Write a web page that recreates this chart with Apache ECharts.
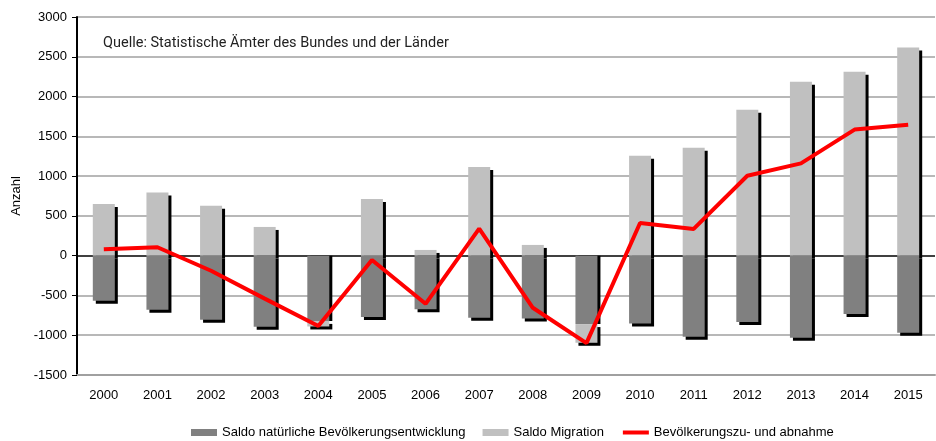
<!DOCTYPE html>
<html><head><meta charset="utf-8">
<script src="https://cdn.jsdelivr.net/npm/echarts@6/dist/echarts.min.js"></script>
<style>html,body{margin:0;padding:0;background:#fff}#c{width:936px;height:441px}</style>
</head><body><div id="c"></div>
<script>
const years = ['2000','2001','2002','2003','2004','2005','2006','2007','2008','2009','2010','2011','2012','2013','2014','2015'];
const natural = [-567,-680,-805,-894,-820,-770,-675,-781,-789,-860,-852,-1020,-835,-1033,-734,-970];
const migration = [651,793,626,361,-70,712,72,1115,135,-235,1255,1356,1834,2187,2313,2616];
const total = [80,106,-190,-540,-885,-55,-605,340,-655,-1100,410,336,1005,1160,1585,1645];
const source = 'Quelle: Statistische Ämter des Bundes und der Länder';

const font = '"Liberation Sans", Arial, sans-serif';
const chart = echarts.init(document.getElementById('c'), null, {renderer:'canvas'});
const gridCols = [];
for (let v=-1500; v<=3000; v+=500) gridCols.push(v===0 ? '#000000' : '#a0a0a0');
const shadow = {shadowColor:'#000',shadowOffsetX:3,shadowOffsetY:3,shadowBlur:0};
// natural bar: no bottom shadow where migration continues below it
const naturalData = natural.map((v,i)=> migration[i] < 0
  ? {value:v, itemStyle:{shadowOffsetY:0}} : v);
chart.setOption({
  animation:false,
  textStyle:{fontFamily:font},
  grid:{left:77,right:1,top:17,bottom:66},
  graphic:[{type:'text',left:103,top:36,style:{text:source,font:'14.5px Roboto, sans-serif',fill:'#222'}}],
  legend:{left:186,top:421,itemWidth:26,itemHeight:7,itemGap:17,
    textStyle:{fontSize:13,color:'#000',fontFamily:font},
    data:[{name:'Saldo natürliche Bevölkerungsentwicklung',icon:'rect'},{name:'Saldo Migration',icon:'rect'},
      {name:'Bevölkerungszu- und abnahme',itemStyle:{opacity:0},lineStyle:{width:4,color:'#ff0000'}}]},
  xAxis:{type:'category',data:years,
    axisLine:{onZero:false,lineStyle:{color:'#a0a0a0',width:2}},
    axisTick:{show:false},
    axisLabel:{color:'#000',fontSize:13,margin:14,fontFamily:font}},
  yAxis:{type:'value',min:-1500,max:3000,interval:500,
    name:'Anzahl',nameLocation:'middle',nameGap:47,nameRotate:90,
    nameTextStyle:{color:'#000',fontSize:13,fontFamily:font},
    axisLine:{show:true,lineStyle:{color:'#000',width:2}},
    axisTick:{show:true,length:5,lineStyle:{color:'#000'}},
    axisLabel:{color:'#000',fontSize:13,margin:10,fontFamily:font,formatter:v=>String(v)},
    splitLine:{show:true,lineStyle:{color:gridCols,width:1.5}}},
  series:[
    {name:'Saldo natürliche Bevölkerungsentwicklung',type:'bar',stack:'s',data:naturalData,barWidth:22,z:3,
      itemStyle:Object.assign({color:'#808080'},shadow)},
    {name:'Saldo Migration',type:'bar',stack:'s',data:migration,barWidth:22,z:2,
      itemStyle:Object.assign({color:'#c0c0c0'},shadow)},
    {name:'Bevölkerungszu- und abnahme',type:'line',data:total,symbol:'none',z:5,
      lineStyle:{color:'#ff0000',width:4},itemStyle:{color:'#ff0000'}}
  ]
});
</script></body></html>
